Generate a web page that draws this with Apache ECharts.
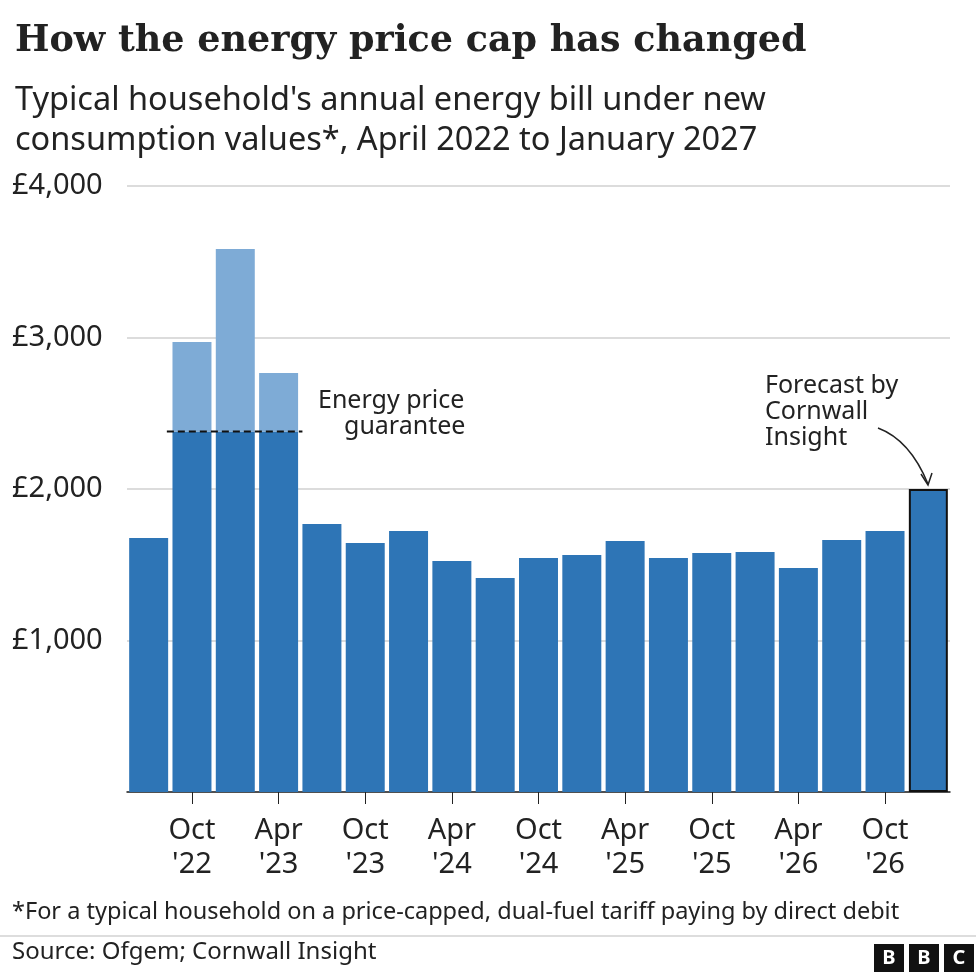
<!DOCTYPE html>
<html><head><meta charset="utf-8">
<script src="https://cdn.jsdelivr.net/npm/echarts@6/dist/echarts.min.js"></script>
<style>html,body{margin:0;padding:0;background:#fff}#main{width:976px;height:976px}</style>
</head><body><div id="main"></div>
<script>
var myChart = echarts.init(document.getElementById('main'));

var periods = ['Apr 22','Oct 22','Jan 23','Apr 23','Jul 23','Oct 23','Jan 24','Apr 24','Jul 24','Oct 24',
  'Jan 25','Apr 25','Jul 25','Oct 25','Jan 26','Apr 26','Jul 26','Oct 26','Jan 27'];
var capValues = [1677,2970,3584,2766,1769,1644,1723,1525,1413,1545,1564,1657,1545,1578,1584,1479,1663,1723,2000];
var guarantee = 2380;
var tickLabels = {'Oct 22':"Oct\n'22",'Apr 23':"Apr\n'23",'Oct 23':"Oct\n'23",'Apr 24':"Apr\n'24",'Oct 24':"Oct\n'24",
  'Apr 25':"Apr\n'25",'Oct 25':"Oct\n'25",'Apr 26':"Apr\n'26",'Oct 26':"Oct\n'26"};

var dark = '#2e75b6', light = '#7eabd6';
var paid = capValues.map(function (v, i) {
  var item = {value: Math.min(v, guarantee)};
  if (i === capValues.length - 1) item.itemStyle = {borderColor: '#111', borderWidth: 2};
  return item;
});
var above = capValues.map(function (v) { return v > guarantee ? v - guarantee : 0; });

var font = 'Noto Sans';
var option = {
  animation: false,
  title: [
    {text: 'How the energy price cap has changed', left: 10, top: 18,
     textStyle: {fontFamily: 'DejaVu Serif', fontWeight: 'bold', fontSize: 36.5, color: '#222'}},
    {text: "Typical household's annual energy bill under new\nconsumption values*, April 2022 to January 2027", left: 10, top: 76,
     textStyle: {fontFamily: font, fontWeight: 'normal', fontSize: 32.5, lineHeight: 40, color: '#222'}}
  ],
  grid: {left: 127, right: 26, top: 186, bottom: 184},
  xAxis: [{
    type: 'category', data: periods,
    axisLine: {lineStyle: {color: '#222', width: 1.5}},
    axisTick: {show: true, length: 12, interval: function (i, v) { return !!tickLabels[v]; }, alignWithLabel: true, lineStyle: {color: '#222'}},
    axisLabel: {interval: function (i, v) { return !!tickLabels[v]; }, formatter: function (v) { return tickLabels[v] || ''; },
      fontFamily: font, fontSize: 29, lineHeight: 34, color: '#222', margin: 22}
  }, {
    type: 'value', min: -0.5, max: 18.5, show: false
  }],
  yAxis: {
    type: 'value', min: 0, max: 4000, interval: 1000,
    axisLine: {show: false}, axisTick: {show: false},
    splitLine: {lineStyle: {color: '#d0d0d0', width: 1.5}},
    axisLabel: {formatter: function (v) { return v === 0 ? '' : '£' + v.toLocaleString('en-GB'); },
      align: 'left', margin: 115, fontFamily: font, fontSize: 29, color: '#222', verticalAlign: 'middle'}
  },
  series: [
    {type: 'bar', stack: 'c', data: paid, barCategoryGap: '10%', itemStyle: {color: dark}},
    {type: 'bar', stack: 'c', data: above, itemStyle: {color: light}},
    {type: 'line', xAxisIndex: 1, data: [[0.42, guarantee], [3.55, guarantee]], symbol: 'none',
     lineStyle: {color: '#111', type: [7, 4], width: 2}}
  ],
  graphic: [
    {type: 'text', left: 318, top: 388, style: {text: 'Energy price\n    guarantee', font: '25px "Noto Sans"', fill: '#222', lineHeight: 26}},
    {type: 'text', left: 765, top: 373, style: {text: 'Forecast by\nCornwall\nInsight', font: '25px "Noto Sans"', fill: '#222', lineHeight: 26}},
    {type: 'bezierCurve', shape: {x1: 878, y1: 428, cpx1: 910, cpy1: 440, x2: 928, y2: 484}, style: {stroke: '#222', lineWidth: 1.5, fill: null}},
    {type: 'polyline', shape: {points: [[921, 474], [928, 485], [932, 473]]}, style: {stroke: '#222', lineWidth: 1.5, fill: null}},
    {type: 'text', left: 12, top: 900, style: {text: '*For a typical household on a price-capped, dual-fuel tariff paying by direct debit', font: '23.5px "Noto Sans"', fill: '#222'}},
    {type: 'line', shape: {x1: 0, y1: 936, x2: 976, y2: 936}, style: {stroke: '#bbb', lineWidth: 1}},
    {type: 'text', left: 12, top: 940, style: {text: 'Source: Ofgem; Cornwall Insight', font: '24px "Noto Sans"', fill: '#222'}},
    {type: 'group', left: 874, top: 944, children: ['B', 'B', 'C'].map(function (ch, i) {
      return {type: 'group', x: i * 35, children: [
        {type: 'rect', shape: {x: 0, y: 0, width: 30, height: 28}, style: {fill: '#111'}},
        {type: 'text', x: 15, y: 14, style: {text: ch, font: 'bold 20px "Noto Sans"', fill: '#fff', align: 'center', verticalAlign: 'middle'}}
      ]};
    })}
  ]
};
myChart.setOption(option);
</script></body></html>
